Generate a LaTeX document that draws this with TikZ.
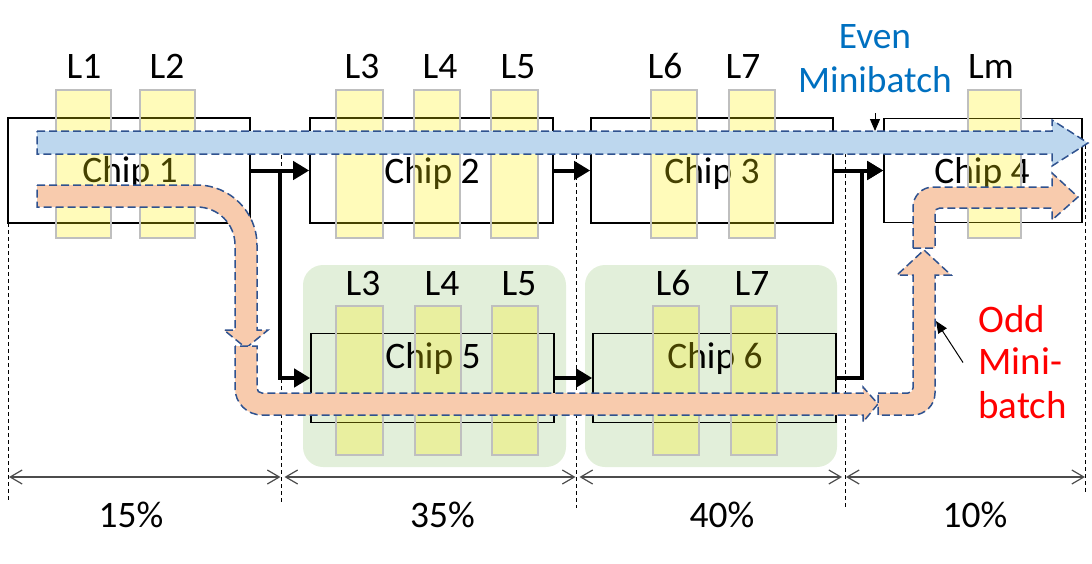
\documentclass[tikz,border=0pt]{standalone}
\usepackage{fontspec}
\setmainfont{Carlito}
\usetikzlibrary{arrows.meta}

\definecolor{evenfill}{HTML}{BDD7EE}
\definecolor{oddfill}{HTML}{F8CBAD}
\definecolor{flowedge}{HTML}{2F528F}
\definecolor{groupfill}{HTML}{E2EFDA}
\definecolor{evenblue}{HTML}{0070C0}

\begin{document}
\begin{tikzpicture}[x=0.5pt,y=-0.5pt]
  % Styles
  \tikzset{
    chip/.style={draw,line width=0.8pt,inner sep=0pt},
    txt/.style={font=\fontsize{18.7}{22}\selectfont,inner sep=0pt,text height=11.8pt,text depth=0pt},
    note/.style={font=\fontsize{19.5}{23}\selectfont,inner sep=0pt,text height=12.3pt,text depth=0pt},
    layer/.style={fill=yellow,fill opacity=0.27,draw=gray!50,line width=0.8pt},
    group/.style={fill=groupfill,rounded corners=10pt},
    link/.style={line width=2pt,-{Triangle[length=8pt,width=9pt]}},
    flow/.style={draw=flowedge,line width=0.75pt,dash pattern=on 4pt off 2pt},
    guide/.style={line width=0.5pt,dash pattern=on 2pt off 1.5pt},
    dim/.style={draw=black!70,line width=0.6pt,shorten <=1pt,shorten >=1pt,
      {Straight Barb[length=6pt,width=7pt]}-{Straight Barb[length=6pt,width=7pt]}},
    pointer/.style={line width=0.5pt,-{Triangle[length=6pt,width=5pt]}}
  }

  \useasboundingbox (0,0) rectangle (1092,563);

  % Groups of the second pipeline
  \fill[group] (303,265) rectangle (566,467);
  \fill[group] (585,265) rectangle (837,467);

  % Chips
  \node[chip,minimum width=121pt,minimum height=52.5pt] (chip1) at (129,170.5) {};
  \node[chip,minimum width=121.5pt,minimum height=52.5pt] (chip2) at (431.5,170.5) {};
  \node[chip,minimum width=121pt,minimum height=52.5pt] (chip3) at (712,170.5) {};
  \node[chip,minimum width=99pt,minimum height=52pt] (chip4) at (983,170.5) {};
  \node[chip,minimum width=121.5pt,minimum height=44.5pt] (chip5) at (432.5,378) {};
  \node[chip,minimum width=121.5pt,minimum height=44.5pt] (chip6) at (714.5,378) {};

  \node[txt] (chip1txt) at (130,171) {Chip 1};
  \node[txt] (chip2txt) at (432,172) {Chip 2};
  \node[txt] (chip3txt) at (712,172) {Chip 3};
  \node[txt] (chip4txt) at (982,172) {Chip 4};
  \node[txt] (chip5txt) at (433,357) {Chip 5};
  \node[txt] (chip6txt) at (715,357) {Chip 6};

  % Layers
  \foreach \xa/\xb/\lx/\name in {56/111/84/L1, 140/195/167/L2, 336/383/362/L3,
      414/460/440/L4, 491/538/518/L5, 651/697/665/L6, 729/775/743/L7, 968/1021/991/Lm}{
    \draw[layer] (\xa,90) rectangle (\xb,238);
    \node[txt] (top\name) at (\lx,67) {\name};
  }
  \foreach \xa/\xb/\lx/\name in {336/383/363/L3, 415/461/442/L4, 492/538/519/L5,
      653/699/673/L6, 731/777/752/L7}{
    \draw[layer] (\xa,306) rectangle (\xb,455);
    \node[txt] (low\name) at (\lx,284) {\name};
  }

  % Split lines
  \draw[guide] (8,223) -- (8,503);
  \draw[guide] (281,155) -- (281,503);
  \draw[guide] (576,155) -- (576,508);
  \draw[guide] (845,153) -- (845,508);
  \draw[guide] (1085,145) -- (1085,492);

  % Activations
  \coordinate (fork) at (280,170.5);
  \coordinate (join) at (862,378);
  \draw[link] (chip1.east) -- (chip2.west);
  \draw[link] (fork) |- (chip5.west);
  \draw[link] (chip2.east) -- (chip3.west);
  \draw[link] (chip3.east) -- (chip4.west);
  \draw[link] (chip5.east) -- (chip6.west);
  \draw[link] (chip6.east) -- (join) |- (chip4.west);

  % Even minibatch
  \draw[flow,fill=evenfill] (37,131) -- (1052,131) -- (1052,120) -- (1088,143)
    -- (1052,166) -- (1052,154) -- (37,154) -- cycle;

  % Odd minibatch
  \draw[flow,fill=oddfill] (37,185) -- (197,185) .. controls (230,185) and (257,212) .. (257,245)
    -- (257,330) -- (268,330) -- (246,348) -- (224,330) -- (235,330) -- (235,245)
    .. controls (235,224) and (218,207) .. (197,207) -- (37,207) -- cycle;
  \draw[flow,fill=oddfill] (235,346) -- (235,388) .. controls (235,403) and (247,415) .. (262,415)
    -- (863,415) -- (863,422) -- (878,404) -- (863,387) -- (863,393) -- (262,393)
    .. controls (259,393) and (257,391) .. (257,388) -- (257,346) -- cycle;
  \draw[flow,fill=oddfill] (878,393) -- (908,393) .. controls (911,393) and (913,391) .. (913,388)
    -- (913,275) -- (897,275) -- (924,250) -- (951,275) -- (935,275) -- (935,393)
    .. controls (935,405) and (925,415) .. (913,415) -- (878,415) -- cycle;
  \draw[flow,fill=oddfill] (913,248) -- (913,207) .. controls (913,196) and (922,187) .. (933,187)
    -- (1052,187) -- (1052,173) -- (1078,197) -- (1052,220) -- (1052,208) -- (940,208)
    .. controls (937,208) and (935,210) .. (935,213) -- (935,248) -- cycle;

  % Annotations
  \node[txt,text=evenblue] (even1) at (875,37) {Even};
  \node[txt,text=evenblue] (even2) at (875,81) {Minibatch};
  \coordinate (evenptr) at (875,131);
  \draw[pointer] ([yshift=-10pt]even2.south) -- (evenptr);

  \node[note,text=red,anchor=west] (odd1) at (978,320) {Odd};
  \node[note,text=red,anchor=west] (odd2) at (978,362.5) {Mini-};
  \node[note,text=red,anchor=west] (odd3) at (978,406) {batch};
  \coordinate (oddptr) at (936,321);
  \draw[pointer] ([xshift=-7.5pt]odd2.west) -- (oddptr);

  % Shares
  \coordinate (d0) at (7,477);
  \coordinate (d1) at (282.5,477);
  \coordinate (d2) at (577.5,477);
  \coordinate (d3) at (844,477);
  \coordinate (d4) at (1087,477);
  \draw[dim] (d0) -- (d1);
  \draw[dim] (d1) -- (d2);
  \draw[dim] (d2) -- (d3);
  \draw[dim] (d3) -- (d4);
  \node[txt] (share1) at (131,516) {15\%};
  \node[txt] (share2) at (442.5,516) {35\%};
  \node[txt] (share3) at (722,516) {40\%};
  \node[txt] (share4) at (975,516) {10\%};
\end{tikzpicture}
\end{document}
